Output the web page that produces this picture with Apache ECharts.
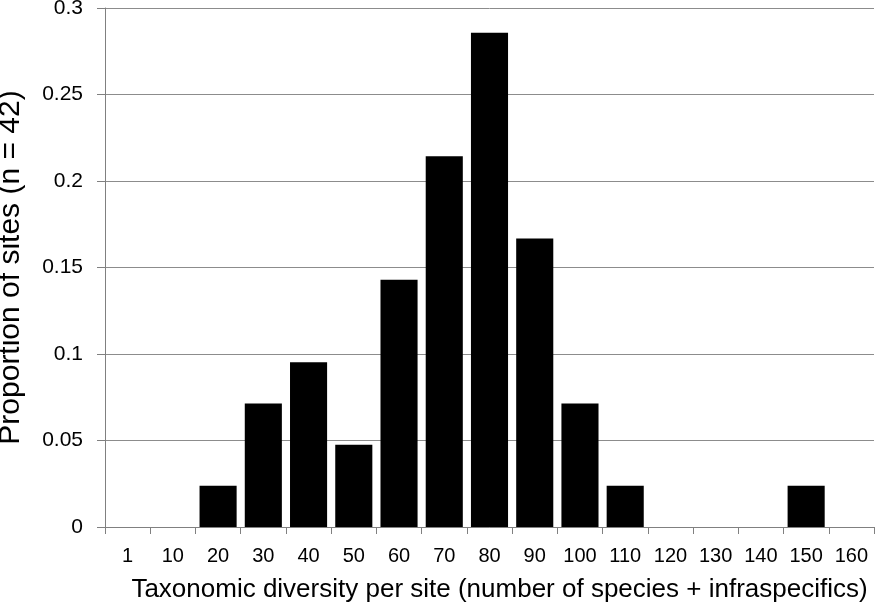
<!DOCTYPE html>
<html lang="en">
	<head>
		<meta charset="UTF-8">
		<title>Taxonomic diversity</title>
		<script src="https://cdn.jsdelivr.net/npm/echarts@6/dist/echarts.min.js"></script>
		<style>
			html, body { margin: 0; padding: 0; background: #fff; }
			#main { width: 875px; height: 611px; }
		</style>
	</head>
	<body>
		<div id="main"></div>
	</body>
	<script>
		let categories = ["1", "10", "20", "30", "40", "50", "60", "70", "80", "90", "100", "110", "120", "130", "140", "150", "160"];
		let proportions = [0, 0, 0.0238, 0.0714, 0.0952, 0.0476, 0.1429, 0.2143, 0.2857, 0.1667, 0.0714, 0.0238, 0, 0, 0, 0.0238, 0];
		let yTicks = [0, 0.05, 0.1, 0.15, 0.2, 0.25, 0.3];

		let font = "Liberation Sans, Arial, sans-serif";
		let option = {
			animation: false,
			grid: { left: 105, right: 1, top: 8, bottom: 84, outerBoundsMode: "none" },
			xAxis: {
				type: "category",
				data: categories,
				name: "Taxonomic diversity per site (number of species + infraspecifics)",
				nameLocation: "middle",
				nameGap: 50,
				nameTextStyle: { fontFamily: font, fontSize: 26, color: "#000", padding: [0, 0, 0, 20] },
				axisLine: { lineStyle: { color: "#808080", width: 1 } },
				axisTick: { show: true, length: 7, lineStyle: { color: "#808080" } },
				axisLabel: { fontFamily: font, fontSize: 20, color: "#000", margin: 19, interval: 0 }
			},
			yAxis: {
				type: "value",
				min: 0,
				max: 0.3,
				interval: 0.05,
				name: "Proportion of sites (n = 42)",
				nameLocation: "middle",
				nameGap: 79,
				nameTextStyle: { fontFamily: font, fontSize: 30, color: "#000" },
				axisLine: { show: true, lineStyle: { color: "#808080", width: 1 } },
				axisTick: { show: true, length: 8, lineStyle: { color: "#808080" } },
				axisLabel: {
					fontFamily: font, fontSize: 21, color: "#000", margin: 22,
					formatter: (v) => {
						let t = yTicks.find(x => Math.abs(x - v) < 1e-9);
						return t === undefined ? "" : String(t);
					}
				},
				splitLine: { lineStyle: { color: "#8c8c8c", width: 1 } }
			},
			series: [{
				type: "bar",
				data: proportions,
				barCategoryGap: "18%",
				itemStyle: { color: "#000" }
			}]
		};

		let echart = echarts.init(document.getElementById("main"));
		echart.setOption(option);
	</script>
</html>
